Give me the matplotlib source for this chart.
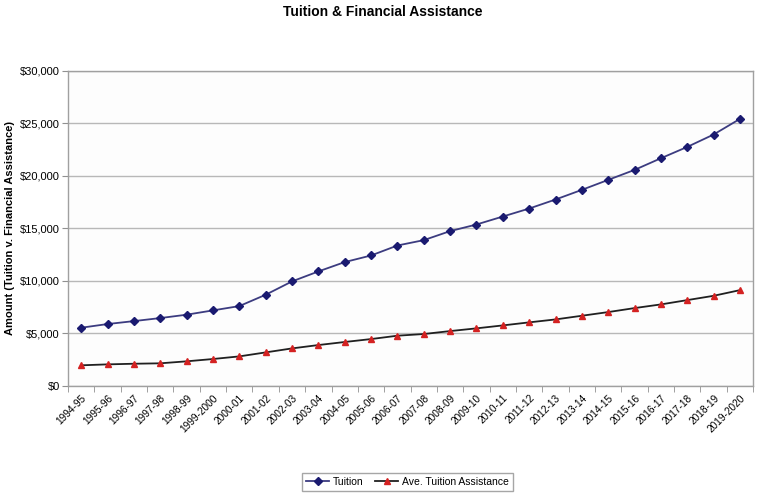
import matplotlib
matplotlib.use("Agg")
import matplotlib.pyplot as plt
from matplotlib.ticker import FuncFormatter, FixedLocator

plt.rcParams['font.family'] = ['Liberation Sans', 'DejaVu Sans']

years = ["1994-95", "1995-96", "1996-97", "1997-98", "1998-99", "1999-2000",
         "2000-01", "2001-02", "2002-03", "2003-04", "2004-05", "2005-06",
         "2006-07", "2007-08", "2008-09", "2009-10", "2010-11", "2011-12",
         "2012-13", "2013-14", "2014-15", "2015-16", "2016-17", "2017-18",
         "2018-19", "2019-2020"]
tuition = [5550, 5900, 6180, 6470, 6790, 7200, 7610, 8690, 9960, 10910,
           11800, 12430, 13380, 13890, 14750, 15380, 16140, 16900, 17760,
           18680, 19630, 20580, 21690, 22770, 23950, 25440]
assistance = [1970, 2060, 2120, 2160, 2350, 2570, 2820, 3200, 3580, 3900,
              4190, 4470, 4790, 4950, 5230, 5490, 5770, 6060, 6340, 6690,
              7040, 7420, 7770, 8180, 8590, 9130]
yticks = [0, 5000, 10000, 15000, 20000, 25000, 30000]

fig = plt.figure(figsize=(7.6, 4.95), dpi=100)
ax = fig.add_axes([0.0895, 0.2202, 0.9015, 0.6364])
ax.set_facecolor('#fdfdfd')

x = list(range(len(years)))
ax.plot(x, tuition, color='#3c3c80', lw=1.3, marker='D', ms=3.6,
        mfc='#1a1a70', mec='#1a1a70', label='Tuition', zorder=3)
ax.plot(x, assistance, color='#202020', lw=1.3, marker='^', ms=4.6,
        mfc='#d42222', mec='#d42222', label='Ave. Tuition Assistance', zorder=3)

ax.set_xlim(-0.5, len(years) - 0.5)
ax.set_ylim(0, 30000)
ax.set_yticks(yticks)
ax.yaxis.set_major_formatter(FuncFormatter(lambda v, p: "${:,.0f}".format(v)))
ax.grid(axis='y', color='#b8b8b8', lw=1.0)
ax.set_axisbelow(True)

ax.set_xticks(x)
ax.set_xticklabels(years, rotation=45, ha='right', va='top',
                   rotation_mode='anchor', fontsize=7.3)
ax.tick_params(axis='x', length=0, pad=5)
ax.xaxis.set_minor_locator(FixedLocator([i - 0.5 for i in range(len(years) + 1)]))
ax.tick_params(axis='x', which='minor', length=4, color='#909090')
ax.tick_params(axis='y', labelsize=8, length=4, color='#909090', pad=2)

for s in ax.spines.values():
    s.set_color('#a0a0a0')
    s.set_linewidth(1.0)

ax.set_ylabel('Amount (Tuition v. Financial Assistance)', fontsize=8,
              fontweight='bold', labelpad=6)
ax.yaxis.set_label_coords(-0.078, 0.5)

fig.suptitle('Tuition & Financial Assistance', fontsize=10, fontweight='bold',
             x=0.503, y=0.99)

leg = fig.legend(loc='center', bbox_to_anchor=(0.536, 0.026), ncol=2,
                 fontsize=7.5, frameon=True, fancybox=False, edgecolor='#909090',
                 handlelength=2.2, columnspacing=1.2, borderpad=0.4,
                 handletextpad=0.3)
leg.get_frame().set_linewidth(1.0)

fig.savefig('out.png', dpi=100)
